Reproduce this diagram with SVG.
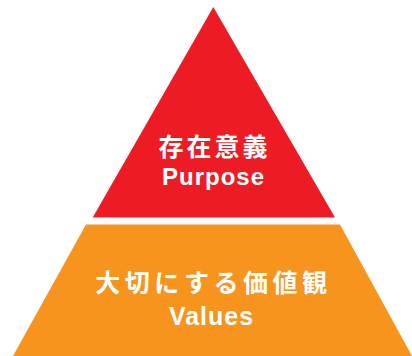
<svg xmlns="http://www.w3.org/2000/svg" width="412" height="356" viewBox="0 0 412 356">
<style>
.t{font-family:"Liberation Sans","Noto Sans CJK JP",sans-serif;font-weight:bold;fill:#fff;text-anchor:middle}
.jp{font-size:25px;letter-spacing:3px}
.en{font-size:24px;letter-spacing:1px}
</style>
<rect width="412" height="356" fill="#fff"/>
<g id="purpose">
<polygon points="213.3,7 92.7,217.5 335,217.5" fill="#ED1C24"/>
<text class="t jp" x="214.5" y="156">存在意義</text>
<text class="t en" x="213.5" y="185">Purpose</text>
</g>
<g id="values">
<polygon points="86,224.5 340,224.5 412,356 13,356" fill="#F7941D"/>
<text class="t jp" x="213.5" y="292" style="letter-spacing:4.5px">大切にする価値観</text>
<text class="t en" x="211.5" y="325" style="font-size:25px">Values</text>
</g>
<g id="connectors"/>
</svg>
